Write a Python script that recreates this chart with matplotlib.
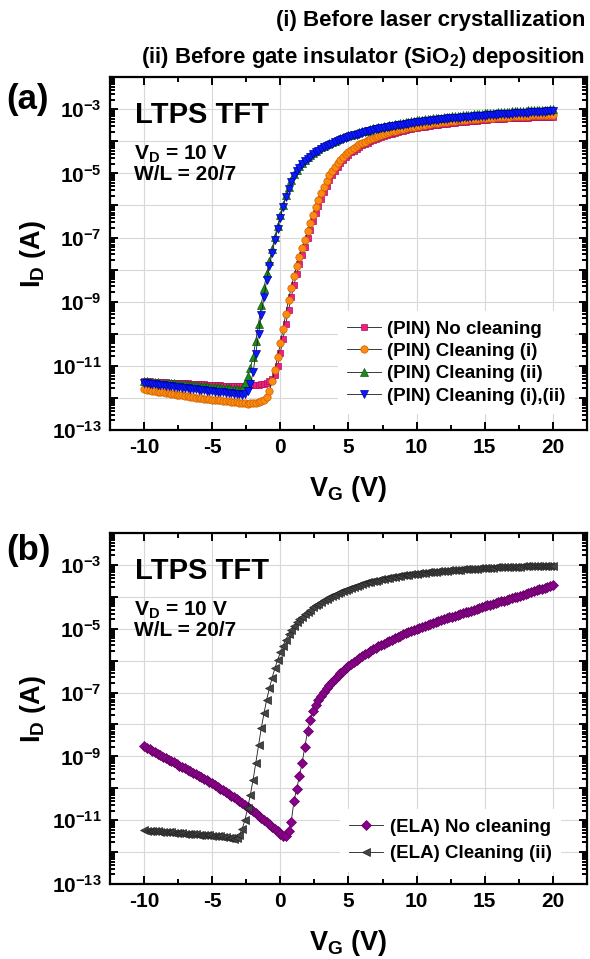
import matplotlib
matplotlib.use("Agg")
import matplotlib.pyplot as plt
import numpy as np
from matplotlib.ticker import LogLocator, FuncFormatter, MultipleLocator, NullFormatter

plt.rcParams['font.family'] = ['Liberation Sans', 'DejaVu Sans']
plt.rcParams['font.weight'] = 'bold'
plt.rcParams['mathtext.fontset'] = 'custom'
plt.rcParams['mathtext.rm'] = 'Liberation Sans:bold'
plt.rcParams['mathtext.it'] = 'Liberation Sans:bold'
plt.rcParams['mathtext.bf'] = 'Liberation Sans:bold'
plt.rcParams['mathtext.default'] = 'rm'
plt.rcParams['axes.unicode_minus'] = False

# gate voltage sweep, -10 V to 20 V in 0.2 V steps
vg = np.linspace(-10, 20, 151)

# log10(I_D), 5 points per volt
pin_none = [
    -11.47, -11.48, -11.48, -11.49, -11.49, -11.50, -11.50, -11.51, -11.51, -11.52,
    -11.52, -11.53, -11.53, -11.54, -11.54, -11.55, -11.55, -11.56, -11.56, -11.57,
    -11.57, -11.58, -11.58, -11.59, -11.59, -11.60, -11.60, -11.61, -11.61, -11.62,
    -11.62, -11.62, -11.63, -11.63, -11.63, -11.63, -11.63, -11.62, -11.62, -11.61,
    -11.61, -11.60, -11.59, -11.58, -11.57, -11.52, -11.47, -11.40, -11.28, -11.02,
    -10.60, -10.15, -9.70, -9.26, -8.86, -8.48, -8.14, -7.84, -7.56, -7.29,
    -7.02, -6.76, -6.50, -6.25, -6.01, -5.79, -5.59, -5.40, -5.22, -5.06,
    -4.92, -4.80, -4.69, -4.59, -4.50, -4.42, -4.35, -4.29, -4.23, -4.18,
    -4.13, -4.08, -4.04, -4.00, -3.96, -3.93, -3.89, -3.86, -3.83, -3.81,
    -3.78, -3.76, -3.73, -3.71, -3.69, -3.67, -3.65, -3.63, -3.62, -3.60,
    -3.58, -3.57, -3.55, -3.54, -3.53, -3.51, -3.50, -3.49, -3.48, -3.47,
    -3.46, -3.45, -3.44, -3.43, -3.42, -3.41, -3.40, -3.39, -3.39, -3.38,
    -3.37, -3.36, -3.36, -3.35, -3.34, -3.34, -3.33, -3.32, -3.32, -3.31,
    -3.31, -3.30, -3.30, -3.29, -3.29, -3.28, -3.28, -3.27, -3.27, -3.26,
    -3.26, -3.26, -3.25, -3.25, -3.25, -3.24, -3.24, -3.24, -3.23, -3.23,
    -3.23]

pin_clean_i = [
    -11.72, -11.74, -11.75, -11.77, -11.78, -11.80, -11.81, -11.83, -11.84, -11.86,
    -11.87, -11.88, -11.90, -11.91, -11.92, -11.94, -11.95, -11.96, -11.97, -11.99,
    -12.00, -12.01, -12.02, -12.03, -12.04, -12.05, -12.06, -12.07, -12.08, -12.09,
    -12.10, -12.11, -12.12, -12.13, -12.14, -12.16, -12.17, -12.17, -12.18, -12.17,
    -12.16, -12.15, -12.13, -12.10, -12.06, -11.97, -11.78, -11.48, -11.12, -10.72,
    -10.30, -9.85, -9.38, -8.94, -8.56, -8.20, -7.88, -7.60, -7.33, -7.07,
    -6.81, -6.55, -6.30, -6.05, -5.82, -5.61, -5.41, -5.23, -5.06, -4.92,
    -4.80, -4.68, -4.58, -4.49, -4.41, -4.34, -4.27, -4.21, -4.15, -4.10,
    -4.05, -4.01, -3.97, -3.93, -3.89, -3.86, -3.83, -3.80, -3.77, -3.74,
    -3.72, -3.69, -3.67, -3.65, -3.63, -3.61, -3.59, -3.57, -3.56, -3.54,
    -3.53, -3.51, -3.50, -3.48, -3.47, -3.46, -3.44, -3.43, -3.42, -3.41,
    -3.40, -3.39, -3.38, -3.37, -3.36, -3.35, -3.34, -3.34, -3.33, -3.32,
    -3.31, -3.30, -3.30, -3.29, -3.28, -3.28, -3.27, -3.26, -3.26, -3.25,
    -3.25, -3.24, -3.24, -3.23, -3.23, -3.22, -3.22, -3.21, -3.21, -3.20,
    -3.20, -3.20, -3.19, -3.19, -3.19, -3.18, -3.18, -3.18, -3.17, -3.17,
    -3.17]

pin_clean_ii = [
    -11.47, -11.48, -11.49, -11.49, -11.50, -11.51, -11.52, -11.52, -11.53, -11.54,
    -11.55, -11.55, -11.56, -11.57, -11.58, -11.58, -11.59, -11.60, -11.61, -11.61,
    -11.62, -11.63, -11.64, -11.64, -11.65, -11.66, -11.66, -11.67, -11.68, -11.69,
    -11.69, -11.70, -11.71, -11.72, -11.73, -11.74, -11.68, -11.52, -11.32, -11.08,
    -10.72, -10.22, -9.68, -9.10, -8.58, -8.12, -7.72, -7.35, -6.98, -6.63,
    -6.30, -5.98, -5.69, -5.43, -5.21, -5.03, -4.89, -4.77, -4.67, -4.58,
    -4.50, -4.43, -4.36, -4.30, -4.24, -4.19, -4.14, -4.10, -4.06, -4.02,
    -3.98, -3.94, -3.91, -3.88, -3.85, -3.82, -3.79, -3.76, -3.74, -3.71,
    -3.69, -3.67, -3.64, -3.62, -3.60, -3.58, -3.56, -3.54, -3.53, -3.51,
    -3.49, -3.48, -3.46, -3.45, -3.43, -3.42, -3.40, -3.39, -3.38, -3.37,
    -3.35, -3.34, -3.33, -3.32, -3.31, -3.30, -3.29, -3.28, -3.27, -3.26,
    -3.25, -3.24, -3.23, -3.22, -3.21, -3.21, -3.20, -3.19, -3.18, -3.18,
    -3.17, -3.16, -3.15, -3.15, -3.14, -3.13, -3.13, -3.12, -3.11, -3.11,
    -3.10, -3.09, -3.09, -3.08, -3.08, -3.07, -3.07, -3.06, -3.06, -3.05,
    -3.05, -3.04, -3.04, -3.03, -3.03, -3.02, -3.02, -3.01, -3.01, -3.00,
    -3.00]

pin_clean_i_ii = [
    -11.53, -11.55, -11.56, -11.57, -11.58, -11.59, -11.60, -11.61, -11.62, -11.63,
    -11.64, -11.65, -11.66, -11.67, -11.68, -11.69, -11.70, -11.71, -11.72, -11.73,
    -11.74, -11.75, -11.76, -11.77, -11.78, -11.79, -11.80, -11.81, -11.82, -11.83,
    -11.84, -11.85, -11.86, -11.87, -11.88, -11.89, -11.90, -11.88, -11.78, -11.58,
    -11.20, -10.62, -10.00, -9.40, -8.85, -8.32, -7.88, -7.48, -7.08, -6.72,
    -6.38, -6.05, -5.75, -5.49, -5.27, -5.09, -4.94, -4.82, -4.72, -4.63,
    -4.55, -4.48, -4.41, -4.35, -4.29, -4.24, -4.19, -4.15, -4.11, -4.07,
    -4.03, -3.99, -3.96, -3.93, -3.90, -3.87, -3.84, -3.81, -3.79, -3.76,
    -3.74, -3.72, -3.69, -3.67, -3.65, -3.63, -3.61, -3.60, -3.58, -3.56,
    -3.55, -3.53, -3.52, -3.50, -3.49, -3.48, -3.46, -3.45, -3.44, -3.43,
    -3.41, -3.40, -3.39, -3.38, -3.37, -3.36, -3.35, -3.34, -3.33, -3.32,
    -3.31, -3.30, -3.29, -3.28, -3.28, -3.27, -3.26, -3.25, -3.25, -3.24,
    -3.23, -3.22, -3.22, -3.21, -3.20, -3.20, -3.19, -3.18, -3.18, -3.17,
    -3.16, -3.16, -3.15, -3.15, -3.14, -3.14, -3.13, -3.13, -3.12, -3.12,
    -3.11, -3.11, -3.10, -3.10, -3.09, -3.09, -3.08, -3.08, -3.07, -3.07,
    -3.07]

ela_none = [
    -8.68, -8.73, -8.77, -8.82, -8.87, -8.91, -8.96, -9.01, -9.05, -9.10,
    -9.15, -9.19, -9.24, -9.29, -9.33, -9.38, -9.42, -9.47, -9.52, -9.56,
    -9.61, -9.66, -9.70, -9.75, -9.80, -9.84, -9.90, -9.95, -10.01, -10.06,
    -10.12, -10.17, -10.23, -10.28, -10.34, -10.40, -10.45, -10.51, -10.58, -10.65,
    -10.72, -10.79, -10.86, -10.93, -11.00, -11.06, -11.13, -11.21, -11.28, -11.35,
    -11.42, -11.48, -11.50, -11.35, -11.05, -10.40, -10.02, -9.62, -9.20, -8.70,
    -8.20, -7.85, -7.58, -7.38, -7.22, -7.10, -6.98, -6.87, -6.77, -6.67,
    -6.58, -6.49, -6.40, -6.32, -6.24, -6.16, -6.09, -6.03, -5.97, -5.91,
    -5.85, -5.80, -5.75, -5.70, -5.65, -5.60, -5.55, -5.51, -5.47, -5.42,
    -5.38, -5.34, -5.30, -5.26, -5.22, -5.18, -5.14, -5.11, -5.07, -5.04,
    -5.00, -4.97, -4.94, -4.90, -4.87, -4.84, -4.81, -4.78, -4.76, -4.73,
    -4.70, -4.67, -4.64, -4.62, -4.59, -4.56, -4.53, -4.51, -4.48, -4.46,
    -4.43, -4.40, -4.38, -4.35, -4.33, -4.30, -4.27, -4.25, -4.22, -4.20,
    -4.17, -4.14, -4.12, -4.09, -4.07, -4.04, -4.01, -3.99, -3.96, -3.94,
    -3.91, -3.88, -3.85, -3.83, -3.80, -3.77, -3.74, -3.71, -3.69, -3.66,
    -3.63]

ela_clean_ii = [
    -11.32, -11.33, -11.33, -11.34, -11.35, -11.35, -11.36, -11.37, -11.37, -11.38,
    -11.38, -11.39, -11.40, -11.40, -11.41, -11.42, -11.42, -11.43, -11.44, -11.44,
    -11.45, -11.45, -11.46, -11.47, -11.47, -11.48, -11.49, -11.50, -11.51, -11.52,
    -11.53, -11.55, -11.57, -11.58, -11.55, -11.45, -11.27, -11.00, -10.62, -10.20,
    -9.74, -9.20, -8.65, -8.12, -7.65, -7.22, -6.86, -6.53, -6.24, -5.98,
    -5.74, -5.53, -5.34, -5.18, -5.03, -4.90, -4.80, -4.71, -4.62, -4.54,
    -4.47, -4.40, -4.33, -4.27, -4.21, -4.16, -4.11, -4.06, -4.01, -3.97,
    -3.93, -3.89, -3.85, -3.81, -3.78, -3.74, -3.71, -3.68, -3.65, -3.63,
    -3.60, -3.58, -3.55, -3.53, -3.51, -3.49, -3.47, -3.45, -3.43, -3.42,
    -3.40, -3.39, -3.37, -3.36, -3.35, -3.33, -3.32, -3.31, -3.30, -3.28,
    -3.27, -3.26, -3.25, -3.24, -3.23, -3.22, -3.22, -3.21, -3.20, -3.19,
    -3.19, -3.18, -3.17, -3.17, -3.16, -3.15, -3.15, -3.14, -3.14, -3.13,
    -3.13, -3.12, -3.12, -3.11, -3.11, -3.10, -3.10, -3.09, -3.09, -3.08,
    -3.08, -3.07, -3.07, -3.07, -3.06, -3.06, -3.05, -3.05, -3.05, -3.04,
    -3.04, -3.04, -3.03, -3.03, -3.03, -3.03, -3.02, -3.02, -3.02, -3.02,
    -3.02]

labels_a = ["(PIN) No cleaning", "(PIN) Cleaning (i)", "(PIN) Cleaning (ii)", "(PIN) Cleaning (i),(ii)"]
labels_b = ["(ELA) No cleaning", "(ELA) Cleaning (ii)"]
xticks = [-10, -5, 0, 5, 10, 15, 20]


def ylab(v, pos):
    e = int(round(np.log10(v)))
    if e % 2 == 0:
        return ''
    return r'$10^{%d}$' % e


def style_axes(ax):
    ax.set_yscale('log')
    ax.set_xlim(-12.5, 22.5)
    ax.set_ylim(1e-13, 1e-2)
    ax.set_xticks(xticks)
    ax.xaxis.set_minor_locator(MultipleLocator(2.5))
    ax.yaxis.set_major_locator(LogLocator(base=10, numticks=20))
    ax.yaxis.set_minor_locator(LogLocator(base=10, subs=np.arange(2, 10), numticks=20))
    ax.yaxis.set_major_formatter(FuncFormatter(ylab))
    ax.yaxis.set_minor_formatter(NullFormatter())
    ax.tick_params(which='both', direction='in', top=True, right=True, width=1.4)
    ax.tick_params(which='major', length=6, labelsize=15, pad=6)
    ax.tick_params(which='minor', length=3.5)
    for s in ax.spines.values():
        s.set_linewidth(1.6)
    ax.grid(True, which='major', color='#d8d8d8', lw=0.8)
    ax.set_axisbelow(True)
    ax.set_xlabel(r'V$_G$ (V)', fontsize=19.5, fontweight='bold')
    ax.set_ylabel(r'I$_D$ (A)', fontsize=19.5, fontweight='bold')
    ax.xaxis.set_label_coords(0.5, -0.125)
    ax.yaxis.set_label_coords(-0.13, 0.5)
    ax.text(0.052, 0.87, 'LTPS TFT', transform=ax.transAxes, fontsize=21, fontweight='bold')
    ax.text(0.05, 0.765, r'V$_D$ = 10 V', transform=ax.transAxes, fontsize=15, fontweight='bold')
    ax.text(0.05, 0.708, 'W/L = 20/7', transform=ax.transAxes, fontsize=15, fontweight='bold')


fig = plt.figure(figsize=(5.9, 9.59), dpi=100)
ax1 = fig.add_axes([0.1864, 0.5516, 0.8085, 0.368])
ax2 = fig.add_axes([0.1864, 0.0782, 0.8085, 0.366])

lw = 0.6
ax1.plot(vg, 10 ** np.array(pin_none), color='#1a1a1a', lw=lw, marker='s', ms=4.6,
         mfc='#ee1f7f', mec='#b0105a', mew=0.5, label=labels_a[0])
ax1.plot(vg, 10 ** np.array(pin_clean_i), color='#1a1a1a', lw=lw, marker='o', ms=5.3,
         mfc='#ff8a10', mec='#c86000', mew=0.5, label=labels_a[1])
ax1.plot(vg, 10 ** np.array(pin_clean_ii), color='#1a1a1a', lw=lw, marker='^', ms=5.8,
         mfc='#1a8a1a', mec='#0d5a0d', mew=0.5, label=labels_a[2])
ax1.plot(vg, 10 ** np.array(pin_clean_i_ii), color='#1a1a1a', lw=lw, marker='v', ms=5.8,
         mfc='#0a1aff', mec='#0000a0', mew=0.5, label=labels_a[3])
style_axes(ax1)
leg1 = ax1.legend(loc='lower right', bbox_to_anchor=(0.975, 0.045), fontsize=13.5,
                  handlelength=1.8, handletextpad=0.35, labelspacing=0.28,
                  frameon=True, facecolor='white', edgecolor='none', framealpha=1,
                  borderpad=0.5, borderaxespad=0)
leg1.get_frame().set_linewidth(0)

ax2.plot(vg, 10 ** np.array(ela_none), color='#1a1a1a', lw=lw, marker='D', ms=4.8,
         mfc='#8a008a', mec='#5a005a', mew=0.5, label=labels_b[0])
ax2.plot(vg, 10 ** np.array(ela_clean_ii), color='#1a1a1a', lw=lw, marker='<', ms=5.8,
         mfc='#444444', mec='#222222', mew=0.5, label=labels_b[1])
style_axes(ax2)
leg2 = ax2.legend(loc='lower right', bbox_to_anchor=(0.945, 0.035), fontsize=13.5,
                  handlelength=1.8, handletextpad=0.35, labelspacing=0.5,
                  frameon=True, facecolor='white', edgecolor='none', framealpha=1,
                  borderpad=0.5, borderaxespad=0)
leg2.get_frame().set_linewidth(0)

fig.text(0.01, 0.886, '(a)', fontsize=25, fontweight='bold')
fig.text(0.01, 0.416, '(b)', fontsize=25, fontweight='bold')
fig.text(0.992, 0.979, '(i) Before laser crystallization', fontsize=16,
         fontweight='bold', ha='right', va='center')
fig.text(0.992, 0.94, r'(ii) Before gate insulator (SiO$_2$) deposition', fontsize=16,
         fontweight='bold', ha='right', va='center')

fig.savefig('out.png', dpi=100)
